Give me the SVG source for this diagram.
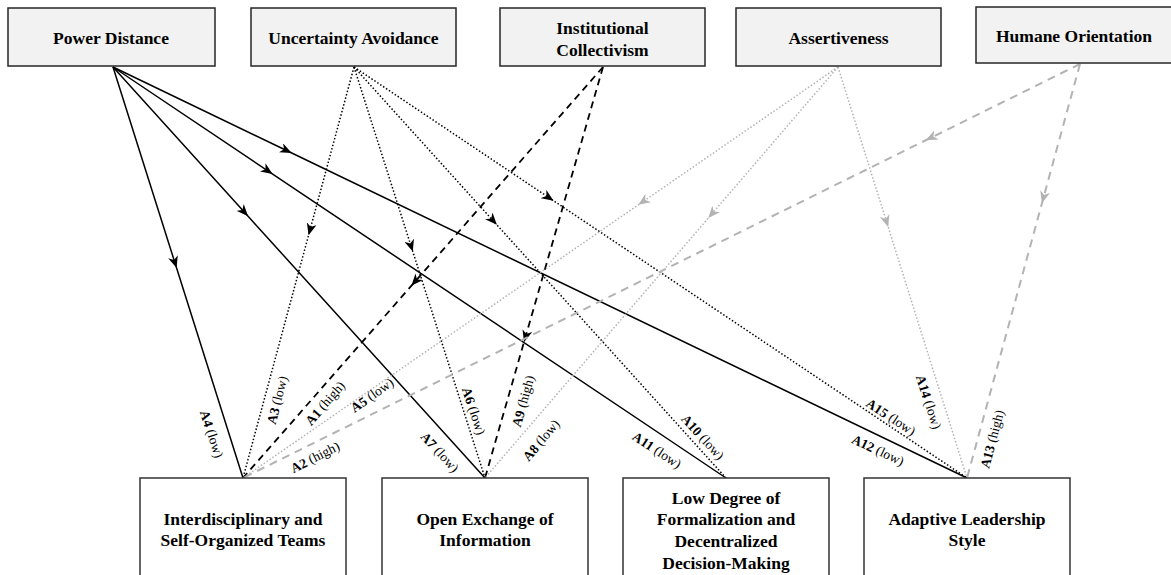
<svg xmlns="http://www.w3.org/2000/svg" width="1171" height="575" viewBox="0 0 1171 575">
<style>
.top{fill:#f2f2f2;stroke:#262626;stroke-width:1.5}
.bot{fill:#ffffff;stroke:#333333;stroke-width:1.5}
.t{font-family:"Liberation Serif","Times New Roman",serif;font-weight:bold;font-size:17.5px;fill:#000;text-anchor:middle}
.b{font-family:"Liberation Serif","Times New Roman",serif;font-weight:bold;font-size:17.5px;fill:#000;text-anchor:middle}
.lab{font-family:"Liberation Serif","Times New Roman",serif;font-size:13.5px;fill:#000;text-anchor:middle;dominant-baseline:central}
.lab tspan.k{font-weight:bold}
.e{fill:none}
.solid{stroke:#000;stroke-width:1.5;marker-mid:url(#ab)}
.dot{stroke:#000;stroke-width:1.5;stroke-dasharray:1.5 2;marker-mid:url(#ab)}
.dash{stroke:#000;stroke-width:1.8;stroke-dasharray:7 5;marker-mid:url(#ab)}
.gdot{stroke:#b3b3b3;stroke-width:1.5;stroke-dasharray:1.5 2;marker-mid:url(#ag)}
.gdash{stroke:#b3b3b3;stroke-width:2;stroke-dasharray:8 6;marker-mid:url(#ag)}
</style>
<defs>
<marker id="ab" viewBox="0 0 12 10" refX="8" refY="5" markerWidth="12" markerHeight="10" markerUnits="userSpaceOnUse" orient="auto">
<path d="M0,0 L12,5 L0,10 L3.5,5 Z" fill="#000"/>
</marker>
<marker id="ag" viewBox="0 0 12 10" refX="8" refY="5" markerWidth="12" markerHeight="10" markerUnits="userSpaceOnUse" orient="auto">
<path d="M0,0 L12,5 L0,10 L3.5,5 Z" fill="#b3b3b3"/>
</marker>
</defs>

<g id="connectors">
<path class="e solid" d="M113,67 L175.4,264.3 L243,478"/>
<path class="e solid" d="M113,67 L245.4,213.3 L485,478"/>
<path class="e solid" d="M113,67 L269.3,171.8 L726,478"/>
<path class="e solid" d="M113,67 L288.1,151.3 L967,478"/>
<path class="e dot" d="M354,67 L309.6,231.4 L243,478"/>
<path class="e dot" d="M354,67 L411.6,247.8 L485,478"/>
<path class="e dot" d="M354,67 L494.2,221.9 L726,478"/>
<path class="e dot" d="M354,67 L550.2,198.5 L967,478"/>
<path class="e dash" d="M603,67 L414,282.8 L243,478"/>
<path class="e dash" d="M603,67 L525.1,338.3 L485,478"/>
<path class="e gdot" d="M838,67 L641.6,202.6 L243,478"/>
<path class="e gdot" d="M838,67 L710.9,215 L485,478"/>
<path class="e gdot" d="M838,67 L887,223.2 L967,478"/>
<path class="e gdash" d="M1080,64 L929.3,138.5 L243,478"/>
<path class="e gdash" d="M1080,64 L1043,199.4 L967,478"/>
</g>

<g id="labels">
<text class="lab" transform="translate(212,434) rotate(72.4)"><tspan class="k">A4</tspan> (low)</text>
<text class="lab" transform="translate(277,400) rotate(-74.9)"><tspan class="k">A3</tspan> (low)</text>
<text class="lab" transform="translate(325,403) rotate(-48.8)"><tspan class="k">A1</tspan> (high)</text>
<text class="lab" transform="translate(372,395) rotate(-34.6)"><tspan class="k">A5</tspan> (low)</text>
<text class="lab" transform="translate(315,457) rotate(-26.3)"><tspan class="k">A2</tspan> (high)</text>
<text class="lab" transform="translate(474,411) rotate(72.3)"><tspan class="k">A6</tspan> (low)</text>
<text class="lab" transform="translate(440,452) rotate(47.9)"><tspan class="k">A7</tspan> (low)</text>
<text class="lab" transform="translate(523,401) rotate(-74)"><tspan class="k">A9</tspan> (high)</text>
<text class="lab" transform="translate(541,440) rotate(-49.3)"><tspan class="k">A8</tspan> (low)</text>
<text class="lab" transform="translate(657,450) rotate(33.8)"><tspan class="k">A11</tspan> (low)</text>
<text class="lab" transform="translate(703,437) rotate(47.9)"><tspan class="k">A10</tspan> (low)</text>
<text class="lab" transform="translate(891,417) rotate(33.8)"><tspan class="k">A15</tspan> (low)</text>
<text class="lab" transform="translate(878,450) rotate(25.7)"><tspan class="k">A12</tspan> (low)</text>
<text class="lab" transform="translate(929,402) rotate(72.6)"><tspan class="k">A14</tspan> (low)</text>
<text class="lab" transform="translate(992,439) rotate(-74.7)"><tspan class="k">A13</tspan> (high)</text>
</g>

<g id="power-distance">
<rect class="top" x="8" y="8" width="207" height="58"/>
<text class="t" x="111" y="44">Power Distance</text>
</g>
<g id="uncertainty-avoidance">
<rect class="top" x="251" y="8" width="205" height="58"/>
<text class="t" x="353.5" y="44">Uncertainty Avoidance</text>
</g>
<g id="institutional-collectivism">
<rect class="top" x="500" y="8" width="205" height="58"/>
<text class="t" x="602.5" y="34">Institutional</text>
<text class="t" x="602.5" y="56">Collectivism</text>
</g>
<g id="assertiveness">
<rect class="top" x="736" y="8" width="205" height="58"/>
<text class="t" x="838.5" y="44">Assertiveness</text>
</g>
<g id="humane-orientation">
<rect class="top" x="976" y="7" width="210" height="56"/>
<text class="t" x="1074" y="42">Humane Orientation</text>
</g>

<g id="interdisciplinary-teams">
<rect class="bot" x="140" y="478" width="206" height="120"/>
<text class="b" x="243" y="525">Interdisciplinary and</text>
<text class="b" x="243" y="546">Self-Organized Teams</text>
</g>
<g id="open-exchange">
<rect class="bot" x="382" y="478" width="206" height="120"/>
<text class="b" x="485" y="525">Open Exchange of</text>
<text class="b" x="485" y="546">Information</text>
</g>
<g id="low-formalization">
<rect class="bot" x="623" y="478" width="206" height="120"/>
<text class="b" x="726" y="504">Low Degree of</text>
<text class="b" x="726" y="525">Formalization and</text>
<text class="b" x="726" y="547">Decentralized</text>
<text class="b" x="726" y="569">Decision-Making</text>
</g>
<g id="adaptive-leadership">
<rect class="bot" x="864" y="478" width="206" height="120"/>
<text class="b" x="967" y="525">Adaptive Leadership</text>
<text class="b" x="967" y="546">Style</text>
</g>
</svg>
